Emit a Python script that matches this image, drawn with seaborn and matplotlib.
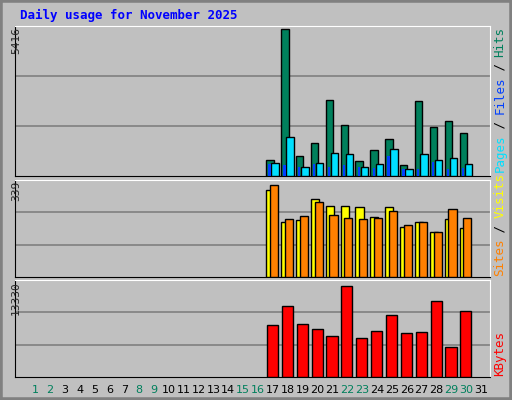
import numpy as np
import matplotlib
matplotlib.use('Agg')
import matplotlib.pyplot as plt
import seaborn as sns
from matplotlib.patches import Rectangle

sns.set_style('white')
plt.rcParams['font.family'] = ['DejaVu Sans Mono', 'DejaVu Sans']

# Data
days = list(range(17, 31))
hits = [590, 5416, 737, 1216, 2800, 1880, 553, 958, 1363, 405, 2763, 1805, 2026, 1584]
files = [480, 1437, 330, 480, 850, 810, 330, 440, 995, 258, 810, 590, 663, 440]
pages = [440, 405, 330, 440, 330, 405, 330, 300, 737, 258, 258, 520, 258, 300]
sites = [320, 201, 208, 286, 260, 260, 256, 219, 256, 183, 204, 165, 213, 179]
visits = [339, 213, 224, 275, 227, 216, 213, 216, 242, 190, 201, 165, 249, 216]
kbytes = [7642, 10413, 7788, 7059, 6038, 13330, 5746, 6767, 9100, 6475, 6621, 11142, 4434, 9684]
weekend = [1, 2, 8, 9, 15, 16, 22, 23, 29, 30]

c_hits, c_files, c_pages = '#00805C', '#00E0FF', '#0040FF'
c_sites, c_visits, c_kb = '#FFFF00', '#FF8000', '#FF0000'

W, H = 512, 400
fig = plt.figure(figsize=(W / 100, H / 100), dpi=100)
fig.patch.set_facecolor('#C0C0C0')
fig.patches.append(Rectangle((0, 0), 1, 1, transform=fig.transFigure, fill=False,
                             edgecolor='#808080', linewidth=4))

def panel(top, bottom):
    ax = fig.add_axes([15 / W, (H - bottom) / H, 475 / W, (bottom - top) / H])
    ax.set_facecolor('#C0C0C0')
    ax.set_xlim(-0.35, 31.6)
    ax.set_xticks([])
    ax.set_yticks([])
    for s in ax.spines.values():
        s.set_color('black')
    ax.spines['top'].set_color('white')
    ax.spines['right'].set_color('white')
    return ax

ax1 = panel(26, 176)
ax2 = panel(180, 277)
ax3 = panel(280, 377)

d = np.array(days)
kw = dict(edgecolor='black', linewidth=1, align='edge', zorder=3)

ax1.set_ylim(0, 5527)
ax1.bar(d - 0.45, hits, width=0.5, color=c_hits, **kw)
ax1.bar(d - 0.1, files, width=0.5, color=c_files, **kw)
ax1.bar(d - 0.3, pages, width=0.15, color=c_pages, edgecolor=c_pages, linewidth=0, align='edge', zorder=4)

ax2.set_ylim(0, 357)
ax2.bar(d - 0.45, sites, width=0.55, color=c_sites, **kw)
ax2.bar(d - 0.2, visits, width=0.55, color=c_visits, **kw)

ax3.set_ylim(0, 14147)
ax3.bar(d - 0.4, kbytes, width=0.75, color=c_kb, **kw)

for ax in (ax1, ax2, ax3):
    lo, hi = ax.get_ylim()
    for f in (1 / 3, 2 / 3):
        ax.axhline(hi * f, color='#808080', linewidth=1.2, zorder=1)

fig.text(20 / W, 1 - 15 / H, 'Daily usage for November 2025', color='#0000FF',
         fontsize=9, fontweight='bold', va='center', ha='left')

for y, lab in ((27, '5416'), (181, '339'), (281, '13330')):
    fig.text(16 / W, 1 - y / H, lab, rotation=90, fontsize=8, ha='center', va='top')

def right_label(parts, ybottom, step=7.2):
    i = 0
    for txt, col in parts:
        fig.text(500 / W, 1 - (ybottom - i * step) / H, txt, rotation=90, color=col,
                 fontsize=9, ha='center', va='bottom')
        i += len(txt)

right_label([('Pages', c_files), (' / ', 'black'), ('Files', c_pages), (' / ', 'black'), ('Hits', c_hits)], 172)
right_label([('Sites', c_visits), (' / ', 'black'), ('Visits', c_sites)], 276)
right_label([('KBytes', c_kb)], 376)

for day in range(1, 32):
    x = 35 + (day - 1) * 14.87
    fig.text(x / W, 1 - 390 / H, str(day), ha='center', va='center', fontsize=8,
             family='DejaVu Sans', color='#00805C' if day in weekend else 'black')

fig.savefig('out.png', dpi=100, facecolor=fig.get_facecolor())
